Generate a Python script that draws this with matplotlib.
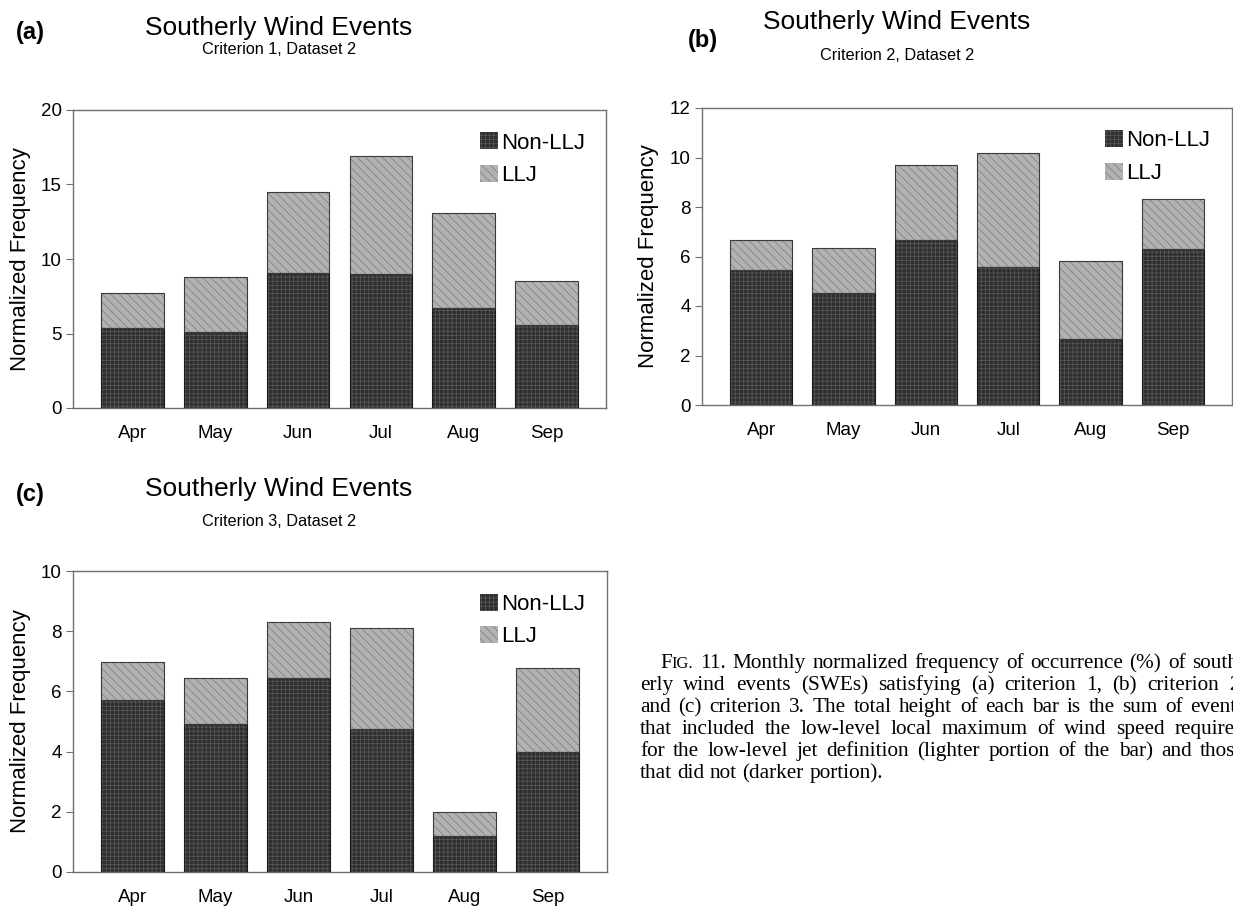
import matplotlib
matplotlib.use("Agg")
import matplotlib.pyplot as plt
import numpy as np

# Monthly normalized frequency (%) of southerly wind events
months = ["Apr", "May", "Jun", "Jul", "Aug", "Sep"]

crit1_nonllj = [5.38, 5.12, 9.07, 8.98, 6.70, 5.60]
crit1_llj = [2.35, 3.64, 5.41, 7.92, 6.42, 2.91]

crit2_nonllj = [5.45, 4.53, 6.66, 5.57, 2.67, 6.31]
crit2_llj = [1.21, 1.81, 3.05, 4.62, 3.14, 2.00]

crit3_nonllj = [5.70, 4.92, 6.46, 4.75, 1.19, 4.00]
crit3_llj = [1.27, 1.53, 1.86, 3.35, 0.81, 2.78]

panel_labels = ["(a)", "(b)", "(c)"]
subtitles = ["Criterion 1, Dataset 2", "Criterion 2, Dataset 2", "Criterion 3, Dataset 2"]
y_ticks = [[0, 5, 10, 15, 20], [0, 2, 4, 6, 8, 10, 12], [0, 2, 4, 6, 8, 10]]

caption_lines = [
    "FIG. 11. Monthly normalized frequency of occurrence (%) of south-",
    "erly wind events (SWEs) satisfying (a) criterion 1, (b) criterion 2,",
    "and (c) criterion 3. The total height of each bar is the sum of events",
    "that included the low-level local maximum of wind speed required",
    "for the low-level jet definition (lighter portion of the bar) and those",
    "that did not (darker portion).",
]

plt.rcParams["font.family"] = ["Liberation Sans", "DejaVu Sans"]
plt.rcParams["hatch.linewidth"] = 0.5

W, H = 1233, 907
fig = plt.figure(figsize=(W / 100, H / 100), dpi=100)


def fx(px):
    return px / W


def fy(py):
    return 1 - py / H


DARK = "#2f2f2f"
DARK_HATCH = "#5a5a5a"
LIGHT = "#b2b2b2"
LIGHT_HATCH = "#7c7c7c"
FRAME = "#707070"


def draw_panel(rect, nonllj, llj, ticks, legend_x, ylabel_x):
    ax = fig.add_axes(rect)
    x = np.arange(len(months))
    bw = 0.757
    nonllj = np.asarray(nonllj)
    llj = np.asarray(llj)
    b1 = ax.bar(x, nonllj, bw, color=DARK, edgecolor=DARK_HATCH, hatch="++++",
                linewidth=0, label="Non-LLJ", zorder=2)
    b2 = ax.bar(x, llj, bw, bottom=nonllj, color=LIGHT, edgecolor=LIGHT_HATCH,
                hatch="\\\\\\\\", linewidth=0, label="LLJ", zorder=2)
    # thin outlines around each stacked segment
    ax.bar(x, nonllj, bw, fill=False, edgecolor="#1a1a1a", linewidth=0.8, zorder=3)
    ax.bar(x, llj, bw, bottom=nonllj, fill=False, edgecolor="#3a3a3a",
           linewidth=0.8, zorder=3)

    ax.set_xlim(-0.72, len(months) - 1 + 0.72)
    ax.set_ylim(ticks[0], ticks[-1])
    ax.set_yticks(ticks)
    ax.set_xticks(x)
    ax.set_xticklabels(months)
    ax.tick_params(axis="x", length=0, pad=12, labelsize=13.5)
    ax.tick_params(axis="y", length=5, width=0.8, color=FRAME, direction="out",
                   pad=3, labelsize=13.5)
    for s in ax.spines.values():
        s.set_color(FRAME)
        s.set_linewidth(1.0)
    ax.set_ylabel("Normalized Frequency", fontsize=16)
    ax.yaxis.set_label_coords(ylabel_x, 0.5)

    ax.legend([b1, b2], ["Non-LLJ", "LLJ"], loc="upper left",
              bbox_to_anchor=(legend_x, 0.925), frameon=False, fontsize=16,
              handlelength=0.8, handleheight=0.8, handletextpad=0.15,
              labelspacing=0.5, borderpad=0, borderaxespad=0)
    return ax


# axes rectangles in pixel coordinates (left, top, right, bottom)
boxes = [(73, 110, 606, 408), (702, 108, 1232, 405), (73, 571, 607, 872)]
data = [(crit1_nonllj, crit1_llj), (crit2_nonllj, crit2_llj), (crit3_nonllj, crit3_llj)]
legend_xs = [0.764, 0.761, 0.763]
ylabel_xs = [-0.078, -0.082, -0.078]

for (l, t, r, b), (nl, lj), tk, lx, yx in zip(boxes, data, y_ticks, legend_xs, ylabel_xs):
    rect = [fx(l), fy(b), (r - l) / W, (b - t) / H]
    draw_panel(rect, nl, lj, tk, lx, yx)

# panel headings: label, title, subtitle
heads = [
    dict(lab=(16, 33), title=(279, 28), sub=(279, 50)),
    dict(lab=(688, 40), title=(897, 22), sub=(897, 55)),
    dict(lab=(16, 494), title=(279, 489), sub=(279, 521)),
]
for h, lab, sub in zip(heads, panel_labels, subtitles):
    fig.text(fx(h["lab"][0]), fy(h["lab"][1]), lab, fontsize=17, fontweight="bold",
             ha="left", va="center")
    fig.text(fx(h["title"][0]), fy(h["title"][1]), "Southerly Wind Events",
             fontsize=19, ha="center", va="center")
    fig.text(fx(h["sub"][0]), fy(h["sub"][1]), sub, fontsize=11.7,
             ha="center", va="center")

# caption set in a justified serif block
serif = ["Liberation Serif", "DejaVu Serif"]
cap_size = 15.3
renderer = fig.canvas.get_renderer()


def word_pieces(word):
    if word == "FIG.":
        return [("F", cap_size), ("IG.", cap_size * 0.78)]
    return [(word, cap_size)]


def piece_width(s, size):
    t = fig.text(0, 0, s, fontsize=size, family=serif)
    w = t.get_window_extent(renderer).width
    t.remove()
    return w


space_w = piece_width("a a", cap_size) - 2 * piece_width("a", cap_size)
left_px, right_px = 640, 1245
baseline0, line_step = 668, 22

for i, line in enumerate(caption_lines):
    words = line.split()
    start = left_px + (20 if i == 0 else 0)
    pieces = [word_pieces(w) for w in words]
    widths = [sum(piece_width(s, sz) for s, sz in p) for p in pieces]
    last = i == len(caption_lines) - 1
    if last or len(words) < 2:
        gap = space_w
    else:
        gap = (right_px - start - sum(widths)) / (len(words) - 1)
    xpos = start
    ypos = baseline0 + i * line_step
    for p, wdt in zip(pieces, widths):
        xx = xpos
        for s, sz in p:
            fig.text(fx(xx), fy(ypos), s, fontsize=sz, family=serif,
                     ha="left", va="baseline")
            xx += piece_width(s, sz)
        xpos += wdt + gap

fig.savefig("out.png", dpi=100)
